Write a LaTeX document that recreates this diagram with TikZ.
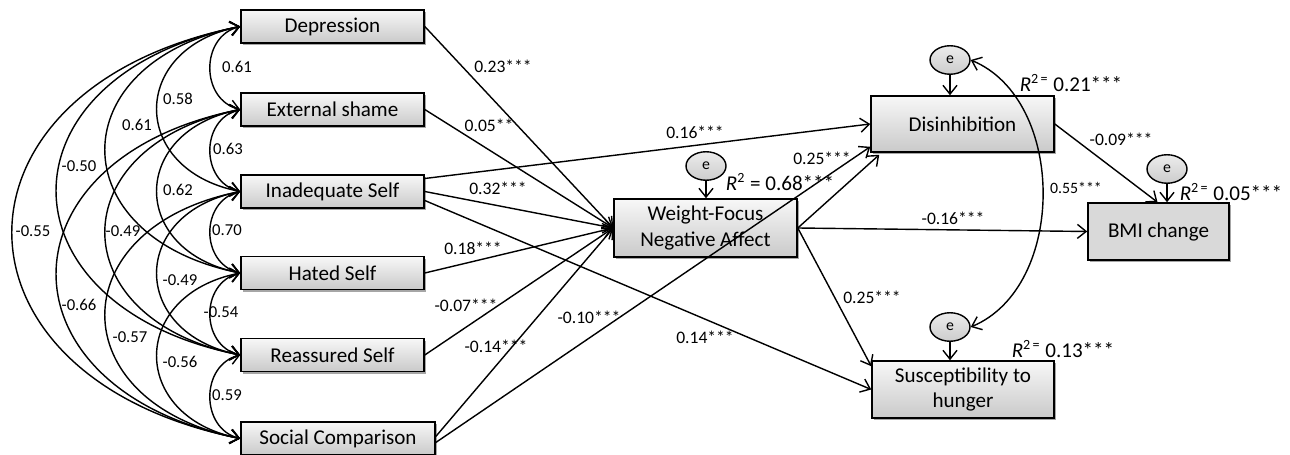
\documentclass[tikz,border=0pt]{standalone}
\usepackage{fontspec}
\setmainfont{Carlito}
\usetikzlibrary{arrows.meta,shapes.geometric,shadows,calc}
\begin{document}
\begin{tikzpicture}[x=0.02cm,y=-0.02cm,
  box/.style={draw=black, line width=0.9pt, top color=gray!6, bottom color=gray!42,
    drop shadow={shadow xshift=1.2pt,shadow yshift=-1.2pt,opacity=0.35,fill=black},
    font=\fontsize{12}{14.7}\selectfont, align=center, inner sep=2pt},
  lbox/.style={box, minimum width=3.66cm, minimum height=0.66cm},
  err/.style={ellipse, draw=black, line width=0.8pt, top color=gray!15, bottom color=gray!40,
    minimum width=0.8cm, minimum height=0.57cm, inner sep=0pt, font=\fontsize{9}{10}\selectfont},
  pth/.style={-{Straight Barb[length=5pt,width=8pt]}, line width=0.8pt},
  corr/.style={{Straight Barb[length=5pt,width=8pt]}-{Straight Barb[length=5pt,width=8pt]}, line width=0.8pt},
  lab/.style={font=\fontsize{10}{12}\selectfont, inner sep=0pt},
  clab/.style={font=\fontsize{9.5}{11}\selectfont, inner sep=0pt},
  rlab/.style={font=\fontsize{12}{14}\selectfont, inner sep=0pt}]
\useasboundingbox (0,0) rectangle (1290,455);

% left boxes
\node[lbox] (dep) at (332.5,26.5) {Depression};
\node[lbox] (ext) at (332.5,109.5) {External shame};
\node[lbox] (inad) at (332.5,191.5) {Inadequate Self};
\node[lbox] (hat) at (332.5,273) {Hated Self};
\node[lbox] (rea) at (332.5,355) {Reassured Self};
\node[box, minimum width=3.88cm, minimum height=0.66cm] (soc) at (338,438.5) {Social Comparison};

% mediator and outcomes
\node[box, minimum width=3.66cm, minimum height=1.16cm] (wf) at (705.5,228) {Weight-Focus\\Negative Affect};
\node[box, minimum width=3.66cm, minimum height=1.12cm] (dis) at (962.5,124) {Disinhibition};
\node[box, minimum width=2.82cm, minimum height=1.14cm, top color=gray!30, bottom color=gray!30] (bmi) at (1158.5,231.5) {BMI change};
\node[box, minimum width=3.64cm, minimum height=1.14cm] (sus) at (963,389.5) {Susceptibility to\\hunger};

% error terms
\node[err] (e1) at (706,166) {e};
\node[err] (e2) at (950,60) {e};
\node[err] (e3) at (1167,169) {e};
\node[err] (e4) at (950,327) {e};

% correlations among predictors
\draw[corr] (dep.west) .. controls +(-40,10) and +(-40,-10) .. (ext.west);
\draw[corr] (ext.west) .. controls +(-40,10) and +(-40,-10) .. (inad.west);
\draw[corr] (inad.west) .. controls +(-40,10) and +(-40,-10) .. (hat.west);
\draw[corr] (hat.west) .. controls +(-40,10) and +(-40,-10) .. (rea.west);
\draw[corr] (rea.west) .. controls +(-40,10) and +(-40,-10) .. (soc.west);
\draw[corr] (dep.west) .. controls +(-111,22) and +(-111,-22) .. (inad.west);
\draw[corr] (ext.west) .. controls +(-111,22) and +(-111,-22) .. (hat.west);
\draw[corr] (inad.west) .. controls +(-111,22) and +(-111,-22) .. (rea.west);
\draw[corr] (hat.west) .. controls +(-111,22) and +(-111,-22) .. (soc.west);
\draw[corr] (dep.west) .. controls +(-180,36) and +(-180,-36) .. (hat.west);
\draw[corr] (ext.west) .. controls +(-180,36) and +(-180,-36) .. (rea.west);
\draw[corr] (inad.west) .. controls +(-180,36) and +(-180,-36) .. (soc.west);
\draw[corr] (dep.west) .. controls +(-245,49) and +(-245,-49) .. (rea.west);
\draw[corr] (ext.west) .. controls +(-245,49) and +(-245,-49) .. (soc.west);
\draw[corr] (dep.west) .. controls +(-304,61) and +(-304,-61) .. (soc.west);

\node[clab] at (237,67) {0.61};
\node[clab] at (228,149) {0.63};
\node[clab] at (227,230) {0.70};
\node[clab] at (221,312) {-0.54};
\node[clab] at (227,395) {0.59};
\node[clab] at (178,99) {0.58};
\node[clab] at (178,190) {0.62};
\node[clab] at (180,280) {-0.49};
\node[clab] at (180,362) {-0.56};
\node[clab] at (137,125) {0.61};
\node[clab] at (123,231) {-0.49};
\node[clab] at (130,337) {-0.57};
\node[clab] at (79,166) {-0.50};
\node[clab] at (79,305) {-0.66};
\node[clab] at (33,231) {-0.55};

% paths to mediator
\draw[pth] (dep.east) -- (wf.west);
\draw[pth] (ext.east) -- (wf.west);
\draw[pth] ($(inad.east)+(0,-13)$) -- (dis.west);
\draw[pth] (inad.east) -- (wf.west);
\draw[pth] ($(inad.east)+(0,9)$) -- (sus.west);
\draw[pth] (hat.east) -- (wf.west);
\draw[pth] (rea.east) -- (wf.west);
\draw[pth] ($(soc.east)+(0,-2)$) -- (wf.west);
\draw[pth] ($(soc.east)+(0,4)$) -- ($(dis.south west)+(0,-6)$);

% paths from mediator
\draw[pth] (wf.east) -- ($(dis.south west)+(9,2)$);
\draw[pth] (wf.east) -- (bmi.west);
\draw[pth] (wf.east) -- ($(sus.north west)+(0,6)$);
\draw[pth] (dis.east) -- ($(bmi.north)+(-1,0)$);

% error arrows
\draw[pth] (e1.south) -- (e1.south |- wf.north);
\draw[pth] (e2.south) -- (e2.south |- dis.north);
\draw[pth] (e3.south) -- (e3.south |- bmi.north);
\draw[pth] (e4.south) -- (e4.south |- sus.north);
\draw[corr] (e2.east) .. controls +(96,40) and +(96,-40) .. (e4.east);

% path labels
\node[lab] at (503,66) {0.23***};
\node[lab] at (489,125) {0.05**};
\node[lab] at (695,132) {0.16***};
\node[lab] at (498,188) {0.32***};
\node[lab] at (473,248) {0.18***};
\node[lab] at (466,305) {-0.07***};
\node[lab] at (496,346) {-0.14***};
\node[lab] at (589,317) {-0.10***};
\node[lab] at (705,337) {0.14***};
\node[lab] at (822,158) {0.25***};
\node[lab] at (872,297) {0.25***};
\node[lab] at (953,218) {-0.16***};
\node[lab] at (1121,139) {-0.09***};
\node[lab, font=\fontsize{9}{11}\selectfont] at (1076,188) {0.55***};

% R-squared labels
\node[rlab] at (780,182) {\textit{R}\textsuperscript{2} = 0.68***};
\node[rlab] at (1071,83) {\textit{R}\textsuperscript{2\,=} 0.21***};
\node[rlab] at (1231,192) {\textit{R}\textsuperscript{2\,=} 0.05***};
\node[rlab] at (1063,349) {\textit{R}\textsuperscript{2\,=} 0.13***};
\end{tikzpicture}
\end{document}
